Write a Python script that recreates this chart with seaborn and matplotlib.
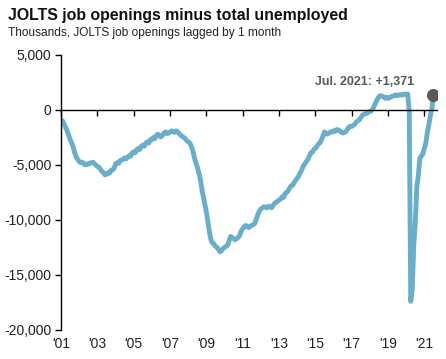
import numpy as np
import pandas as pd
import matplotlib
matplotlib.use("Agg")
import matplotlib.pyplot as plt
import seaborn as sns

# Monthly values, thousands (JOLTS openings lagged 1 month minus unemployed)
v2001 = [-900, -1000, -1300, -1600, -1900, -2300, -2700, -3000, -3400, -3900, -4300, -4500]
v2002 = [-4700, -4800, -4750, -4900, -5000, -4900, -4950, -4850, -4800, -4750, -4900, -5000]
v2003 = [-5150, -5200, -5400, -5600, -5700, -5900, -5850, -5700, -5750, -5500, -5450, -5300]
v2004 = [-4900, -4800, -4850, -4600, -4550, -4500, -4350, -4450, -4300, -4150, -4200, -3900]
v2005 = [-3800, -3900, -3600, -3500, -3600, -3300, -3200, -3300, -3000, -2900, -3000, -2700]
v2006 = [-2700, -2500, -2600, -2300, -2200, -2400, -2450, -2300, -2100, -2000, -2150, -2100]
v2007 = [-2000, -1900, -2000, -2050, -1900, -2000, -2150, -2300, -2400, -2500, -2600, -2800]
v2008 = [-2900, -3000, -3300, -3700, -4300, -4800, -5200, -5700, -6300, -7200, -7900, -8600]
v2009 = [-9300, -10200, -11100, -11800, -12100, -12200, -12400, -12500, -12700, -12900, -12800, -12600]
v2010 = [-12500, -12400, -12300, -11900, -11500, -11600, -11700, -11800, -11700, -11600, -11400, -11000]
v2011 = [-10800, -10600, -10500, -10650, -10700, -10550, -10500, -10450, -10300, -9900, -9500, -9200]
v2012 = [-9000, -8900, -8800, -8850, -8900, -8750, -8800, -8900, -8700, -8500, -8400, -8300]
v2013 = [-8200, -8100, -7900, -7950, -7600, -7500, -7350, -7100, -6900, -6850, -6600, -6400]
v2014 = [-6200, -6000, -5700, -5450, -5100, -4900, -4700, -4500, -4200, -3900, -3850, -3600]
v2015 = [-3500, -3300, -3100, -3000, -2700, -2400, -2000, -2150, -2200, -2100, -2000, -2000]
v2016 = [-1900, -1950, -1800, -1800, -1900, -2000, -2100, -2050, -2000, -1800, -1600, -1500]
v2017 = [-1500, -1400, -1300, -1100, -1000, -900, -700, -500, -400, -350, -300, -200]
v2018 = [-150, -100, 100, 400, 700, 1000, 1200, 1300, 1250, 1200, 1050, 1150]
v2019 = [1050, 1100, 1200, 1250, 1300, 1350, 1300, 1350, 1400, 1350, 1400, 1450]
v2020 = [1400, 1450, -200, -17400, -16300, -12300, -10300, -7000, -6000, -4400, -4200, -4000]
v2021 = [-3500, -3000, -2000, -1300, -500, 100, 1371]

values = (v2001 + v2002 + v2003 + v2004 + v2005 + v2006 + v2007 + v2008 + v2009 + v2010
          + v2011 + v2012 + v2013 + v2014 + v2015 + v2016 + v2017 + v2018 + v2019
          + v2020 + v2021)
years = [2001 + i / 12 for i in range(len(values))]
df = pd.DataFrame({"year": years, "gap": values})

tick_years = list(range(2001, 2022, 2))
tick_labels = ["'01", "'03", "'05", "'07", "'09", "'11", "'13", "'15", "'17", "'19", "'21"]
y_ticks = [5000, 0, -5000, -10000, -15000, -20000]

sns.set_style("white")
plt.rcParams["font.family"] = ["Liberation Sans", "DejaVu Sans"]

fig = plt.figure(figsize=(4.46, 3.59), dpi=100)
ax = fig.add_axes([0.137, 0.081, 0.843, 0.766])

sns.lineplot(data=df, x="year", y="gap", color="#6aafca", linewidth=3.5, ax=ax,
             solid_capstyle="round", solid_joinstyle="round", zorder=2)
ax.scatter([df["year"].iloc[-1]], [df["gap"].iloc[-1]], s=70, color="#595959", zorder=3)

ax.set_xlim(2001, 2021.7)
ax.set_ylim(-20000, 5000)
ax.set_xlabel("")
ax.set_ylabel("")

# left axis
ax.set_yticks(y_ticks)
ax.set_yticklabels([f"{v:,}" for v in y_ticks], fontsize=10, color="#222222")
ax.tick_params(axis="y", left=True, direction="out", length=4, width=1, color="black", pad=3)

# x axis: tick marks on the zero line, labels at bottom
ax.spines["right"].set_visible(False)
ax.spines["bottom"].set_visible(False)
ax.spines["top"].set_position(("data", 0))
ax.spines["top"].set_color("black")
ax.spines["left"].set_color("black")
ax.spines["top"].set_linewidth(1)
ax.spines["left"].set_linewidth(1)
ax.set_xticks(tick_years)
ax.set_xticklabels(tick_labels, fontsize=10, color="#222222")
ax.tick_params(axis="x", top=True, bottom=False, labeltop=False, labelbottom=True,
               direction="in", length=4, width=1, color="black", pad=5)

fig.text(0.018, 0.958, "JOLTS job openings minus total unemployed", fontsize=11.4,
         fontweight="bold", color="#111111", va="center")
fig.text(0.018, 0.908, "Thousands, JOLTS job openings lagged by 1 month", fontsize=8.6,
         color="#222222", va="center")
ax.text(0.94, 0.9, "Jul. 2021: +1,371", transform=ax.transAxes, fontsize=9,
        fontweight="bold", color="#595959", ha="right", va="center")

fig.savefig("out.png", dpi=100)
